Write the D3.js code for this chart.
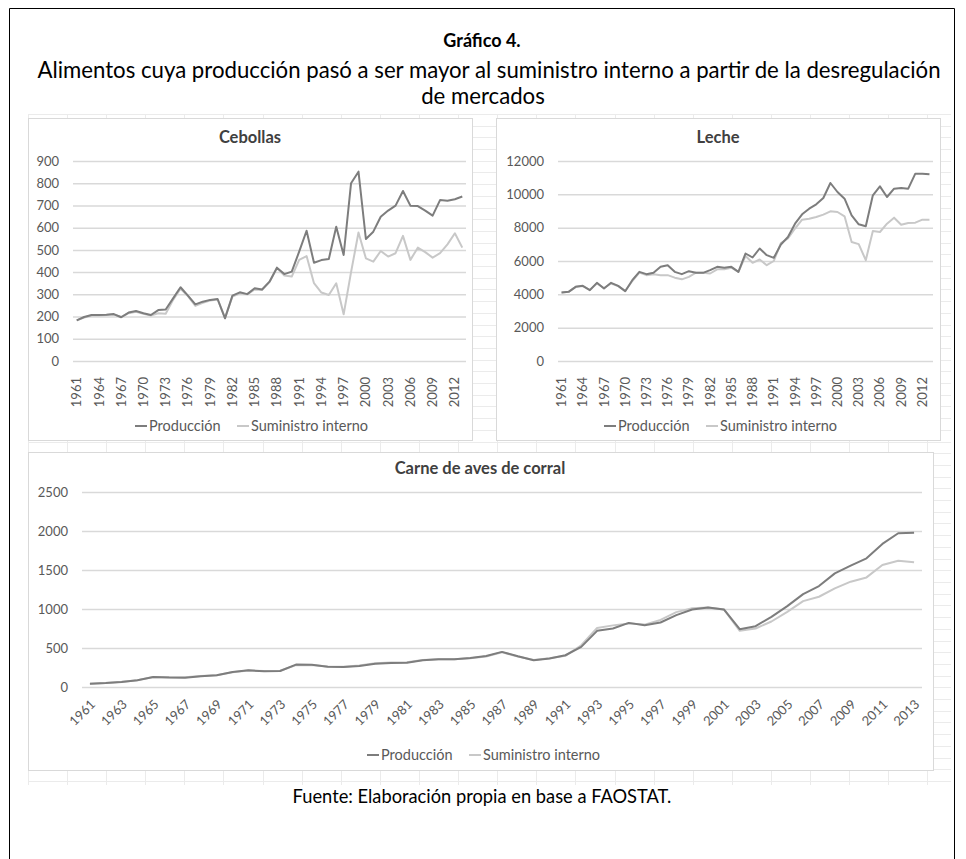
<!DOCTYPE html>
<html>
<head>
<meta charset="utf-8">
<script src="https://cdn.jsdelivr.net/npm/d3@7"></script>
<style>
  body { margin: 0; background: #fff; }
  svg text { font-family: Lato, "Open Sans", sans-serif; }
</style>
</head>
<body>
<svg id="fig" width="966" height="859"></svg>
<script>
// Years on the category axis
const years = [1961,1962,1963,1964,1965,1966,1967,1968,1969,1970,
               1971,1972,1973,1974,1975,1976,1977,1978,1979,1980,
               1981,1982,1983,1984,1985,1986,1987,1988,1989,1990,
               1991,1992,1993,1994,1995,1996,1997,1998,1999,2000,
               2001,2002,2003,2004,2005,2006,2007,2008,2009,2010,
               2011,2012,2013];

// Cebollas
const cebollasProd = [183,198,207,207,208,211,197,218,225,215,
                      207,229,232,282,332,294,255,267,275,279,
                      192,294,309,301,327,322,357,420,391,402,
                      492,586,442,454,459,604,477,800,852,549,
                      582,649,677,699,765,699,697,677,654,724,
                      721,728,740];
const cebollasSum  = [183,196,205,205,207,209,198,215,222,213,
                      205,215,213,275,325,292,248,262,272,277,
                      195,290,305,300,322,320,355,418,385,380,
                      455,472,350,308,297,350,210,400,578,462,
                      447,495,470,485,563,455,510,490,465,485,
                      525,575,510];

// Leche
const lecheProd = [4110,4150,4450,4510,4250,4690,4350,4690,4510,4190,
                   4850,5350,5210,5290,5650,5750,5350,5210,5390,5290,
                   5290,5450,5650,5600,5650,5350,6450,6210,6750,6350,
                   6190,6990,7440,8240,8800,9140,9400,9780,10680,10140,
                   9740,8740,8200,8080,9940,10480,9840,10340,10380,10340,
                   11240,11240,11200];
const lecheSum  = [4110,4150,4450,4500,4260,4650,4380,4650,4500,4200,
                   4800,5300,5150,5200,5150,5150,5000,4900,5050,5300,
                   5300,5250,5500,5500,5600,5350,6300,5890,6090,5750,
                   6000,7080,7350,7950,8480,8540,8640,8780,8980,8940,
                   8680,7140,7010,6050,7800,7740,8240,8600,8180,8280,
                   8300,8480,8480];

// Carne de aves de corral
const carneProd = [43,51,64,86,129,122,120,137,150,193,
                   214,201,205,287,285,260,257,270,298,308,
                   312,343,355,355,373,398,450,394,343,365,
                   407,514,720,750,822,793,827,921,994,1020,
                   994,741,780,900,1037,1191,1294,1457,1555,1650,
                   1834,1971,1979];
const carneSum  = [43,52,66,88,127,125,125,140,152,190,
                   212,205,208,280,283,262,260,275,305,315,
                   318,345,357,355,370,392,445,392,345,368,
                   400,535,757,790,815,800,860,960,1010,1020,
                   995,720,750,840,964,1101,1157,1264,1350,1405,
                   1564,1619,1598];

// Tick labels
const ticksEvery3 = [1961,1964,1967,1970,1973,1976,1979,1982,1985,1988,
                     1991,1994,1997,2000,2003,2006,2009,2012];
const ticksEvery2 = [1961,1963,1965,1967,1969,1971,1973,1975,1977,1979,
                     1981,1983,1985,1987,1989,1991,1993,1995,1997,1999,
                     2001,2003,2005,2007,2009,2011,2013];
const cebollasYTicks = [0,100,200,300,400,500,600,700,800,900];
const lecheYTicks = [0,2000,4000,6000,8000,10000,12000];
const carneYTicks = [0,500,1000,1500,2000,2500];

const seriesNames = ["Producción", "Suministro interno"];
const seriesColors = ["#7d7d7d", "#c8c8c8"];

const svg = d3.select("#fig");
const TXT = "#595959", GRID = "#d9d9d9";

// Outer frame (open at the bottom edge of the page) and headings
svg.append("path").attr("d", "M9.5,870 V8.5 H954.5 V870")
  .attr("fill", "none").attr("stroke", "#000").attr("stroke-width", 1);

svg.append("text").attr("x", 482).attr("y", 47).attr("text-anchor", "middle")
  .attr("font-size", 18).attr("font-weight", "bold").attr("fill", "#000").text("Gráfico 4.");
svg.append("text").attr("x", 489).attr("y", 78).attr("text-anchor", "middle")
  .attr("font-size", 22.2).attr("fill", "#000")
  .text("Alimentos cuya producción pasó a ser mayor al suministro interno a partir de la desregulación");
svg.append("text").attr("x", 483).attr("y", 104).attr("text-anchor", "middle")
  .attr("font-size", 22.2).attr("fill", "#000").text("de mercados");

// Faint worksheet grid behind the charts
const sheet = svg.append("g");
const sheetX0 = 28, sheetX1 = 951, sheetY0 = 114, sheetY1 = 785;
for (let gx = sheetX0; gx <= sheetX1; gx += 39.1) {
  sheet.append("line").attr("x1", Math.round(gx) + 0.5).attr("x2", Math.round(gx) + 0.5)
    .attr("y1", sheetY0).attr("y2", sheetY1).attr("stroke", "#ebebeb");
}
for (let gy = sheetY0; gy <= sheetY1; gy += 11.7) {
  sheet.append("line").attr("y1", Math.round(gy) + 0.5).attr("y2", Math.round(gy) + 0.5)
    .attr("x1", sheetX0).attr("x2", sheetX1).attr("stroke", "#ebebeb");
}

function drawPanel(cfg) {
  const g = svg.append("g");
  g.append("rect").attr("x", cfg.area[0] + 0.5).attr("y", cfg.area[1] + 0.5)
    .attr("width", cfg.area[2] - cfg.area[0]).attr("height", cfg.area[3] - cfg.area[1])
    .attr("fill", "#fff").attr("stroke", "#d9d9d9");

  const x = d3.scaleBand().domain(years).range([cfg.left, cfg.right]);
  const y = d3.scaleLinear().domain([0, cfg.yTicks[cfg.yTicks.length - 1]]).range([cfg.bottom, cfg.top]);
  const cx = d => x(d) + x.bandwidth() / 2;

  // gridlines
  g.append("g").attr("transform", `translate(${cfg.left},0)`)
    .call(d3.axisLeft(y).tickValues(cfg.yTicks).tickSize(-(cfg.right - cfg.left)).tickFormat(""))
    .call(a => a.select(".domain").remove())
    .call(a => a.selectAll("line").attr("stroke", GRID).attr("stroke-width", 1.5));

  // y labels
  g.append("g").attr("transform", `translate(${cfg.left},0)`)
    .call(d3.axisLeft(y).tickValues(cfg.yTicks).tickSize(0).tickPadding(14).tickFormat(d3.format("d")))
    .call(a => a.select(".domain").remove())
    .call(a => a.selectAll("text").attr("fill", TXT).attr("font-size", 13)
      .style("font-family", "Lato, sans-serif"));

  // x labels
  const xa = g.append("g").attr("transform", `translate(0,${cfg.bottom})`)
    .call(d3.axisBottom(x).tickValues(cfg.xTicks).tickSize(0))
    .call(a => a.select(".domain").remove());
  xa.selectAll("text").attr("fill", TXT).attr("font-size", 13)
    .style("font-family", "Lato, sans-serif")
    .attr("text-anchor", "end").attr("x", 0).attr("y", 0).attr("dy", "0.35em")
    .attr("transform", cfg.rot === -90 ? "translate(0,16) rotate(-90)" : "translate(3,15) rotate(-45)");

  // series
  const line = d3.line().x((d, i) => cx(years[i])).y(d => y(d));
  [cfg.sum, cfg.prod].forEach((vals, k) => {
    g.append("path").datum(vals).attr("d", line).attr("fill", "none")
      .attr("stroke", k === 0 ? seriesColors[1] : seriesColors[0])
      .attr("stroke-width", 2).attr("stroke-linejoin", "round");
  });

  // title
  g.append("text").attr("x", cfg.titlePos[0]).attr("y", cfg.titlePos[1]).attr("text-anchor", "middle")
    .attr("font-size", 16.5).attr("font-weight", "bold").attr("fill", "#404040").text(cfg.title);

  // legend
  seriesNames.forEach((nm, i) => {
    const lx = cfg.legendX[i];
    g.append("line").attr("x1", lx).attr("x2", lx + 12).attr("y1", cfg.legendY).attr("y2", cfg.legendY)
      .attr("stroke", seriesColors[i]).attr("stroke-width", 2);
    g.append("text").attr("x", lx + 14).attr("y", cfg.legendY).attr("dy", "0.35em")
      .attr("font-size", 14.5).attr("fill", TXT).text(nm);
  });
}

drawPanel({
  title: "Cebollas", titlePos: [250, 143],
  area: [28, 118, 472, 440], left: 73, right: 466, top: 161, bottom: 361,
  yTicks: cebollasYTicks, xTicks: ticksEvery3, rot: -90,
  prod: cebollasProd, sum: cebollasSum, legendY: 426, legendX: [135, 237]
});
drawPanel({
  title: "Leche", titlePos: [718, 143],
  area: [496, 118, 940, 440], left: 558, right: 933, top: 161, bottom: 361,
  yTicks: lecheYTicks, xTicks: ticksEvery3, rot: -90,
  prod: lecheProd, sum: lecheSum, legendY: 426, legendX: [604, 706]
});
drawPanel({
  title: "Carne de aves de corral", titlePos: [480, 474],
  area: [28, 452, 933, 770], left: 82, right: 922, top: 492, bottom: 687,
  yTicks: carneYTicks, xTicks: ticksEvery2, rot: -45,
  prod: carneProd, sum: carneSum, legendY: 755, legendX: [367, 469]
});

svg.append("text").attr("x", 482).attr("y", 803).attr("text-anchor", "middle")
  .attr("font-size", 18.3).attr("fill", "#000").text("Fuente: Elaboración propia en base a FAOSTAT.");
</script>
</body>
</html>
